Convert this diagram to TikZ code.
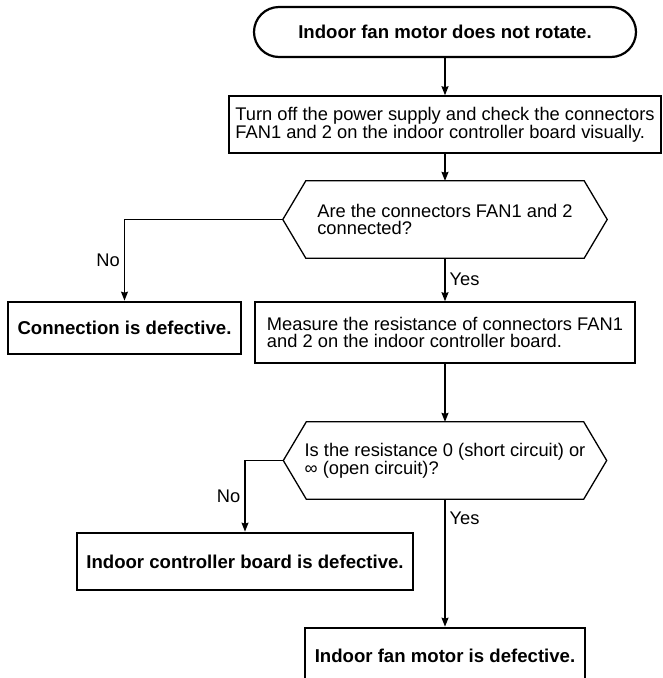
\documentclass[tikz,border=0pt]{standalone}
\usepackage{fontspec}
\setmainfont{Liberation Sans}
\usetikzlibrary{arrows.meta}

\begin{document}
\begin{tikzpicture}[x=1pt, y=-1pt,
    every node/.style={font=\fontsize{18.3}{17}\selectfont},
    line/.style={line width=1.3pt, -{Stealth[length=9pt, width=7pt, inset=1pt]}},
    taskbox/.style={draw, line width=1.6pt, align=left, inner sep=0pt},
    endbox/.style={draw, line width=2.7pt, inner sep=0pt, font=\fontsize{18.6}{20}\selectfont\bfseries},
    askbox/.style={align=left, inner sep=0pt},
    tag/.style={inner sep=4pt}]
\useasboundingbox (0,0) rectangle (662,678);
\clip (0,0) rectangle (662,678);

\node[endbox, line width=2.2pt, rounded corners=25pt, minimum width=382pt, minimum height=50pt] (start) at (445,32) {Indoor fan motor does not rotate.};
\node[taskbox, minimum width=432pt, minimum height=57pt] (check) at (445,124.5) {Turn off the power supply and check the connectors\\FAN1 and 2 on the indoor controller board visually.};
\node[askbox, minimum width=324pt, minimum height=77pt] (ask1) at (445,219.5) {Are the connectors FAN1 and 2\\connected?};
\node[endbox, minimum width=233pt, minimum height=52pt] (badlink) at (124.5,328) {Connection is defective.};
\node[taskbox, minimum width=380pt, minimum height=61pt] (measure) at (445,332.5) {Measure the resistance of connectors FAN1\\and 2 on the indoor controller board.};
\node[askbox, minimum width=323pt, minimum height=77pt] (ask2) at (445,460.5) {Is the resistance 0 (short circuit) or\\∞ (open circuit)?};
\node[endbox, minimum width=336pt, minimum height=57pt] (badboard) at (245,561.5) {Indoor controller board is defective.};
\node[endbox, minimum width=280pt, minimum height=56pt] (badmotor) at (445,656) {Indoor fan motor is defective.};

\foreach \q in {ask1, ask2}
  \draw[line width=1.3pt] (\q.west) -- ([xshift=23pt]\q.north west) -- ([xshift=-23pt]\q.north east) -- (\q.east) -- ([xshift=-23pt]\q.south east) -- ([xshift=23pt]\q.south west) -- cycle;

\draw[line] (start) -- (check);
\draw[line] (check) -- (ask1);
\draw[line] (ask1.west) -| node[tag, pos=0.75, left] (no1) {No} (badlink.north);
\draw[line] (ask1) -- node[tag, midway, right] (yes1) {Yes} (measure);
\draw[line] (measure) -- (ask2);
\draw[line] (ask2.west) -| node[tag, pos=0.75, left] (no2) {No} (badboard.north);
\draw[line] (ask2) -- node[tag, pos=0.15, right] (yes2) {Yes} (badmotor);

\end{tikzpicture}
\end{document}
